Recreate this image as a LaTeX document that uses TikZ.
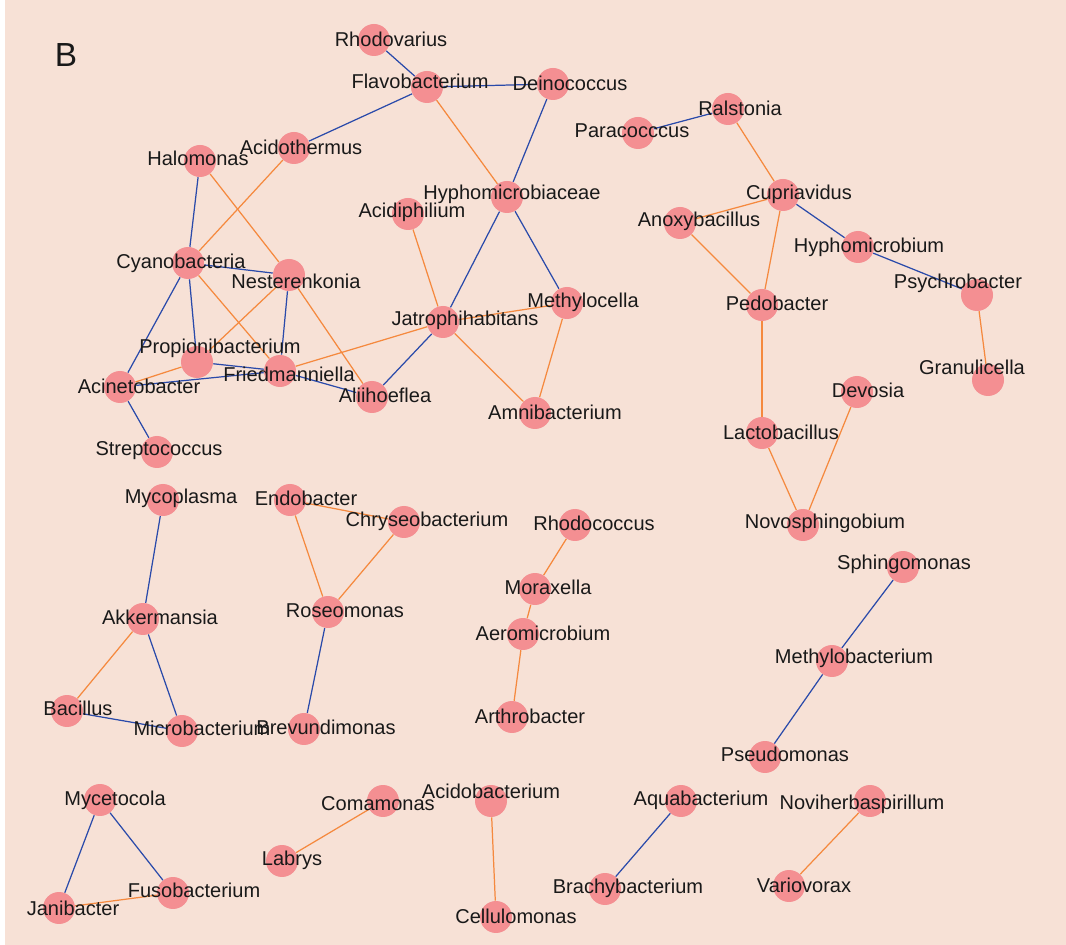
\documentclass[tikz,border=0pt]{standalone}
\usepackage{fontspec}
\setmainfont{Liberation Sans}
\usetikzlibrary{backgrounds}

\definecolor{bgpeach}{RGB}{247,225,214}
\definecolor{nodepink}{RGB}{244,143,146}
\definecolor{edgeorange}{RGB}{245,137,62}
\definecolor{edgeblue}{RGB}{42,74,170}

\begin{document}
\begin{tikzpicture}[
  x=0.02cm, y=-0.02cm,
  font=\fontsize{11.4}{13}\selectfont,
  taxon/.style   ={circle, fill=nodepink, draw=none, minimum size=0.64cm, inner sep=0pt},
  tag/.style     ={inner sep=0pt, text=black!90},
  orangeedge/.style={draw=edgeorange, line width=0.7pt},
  blueedge/.style  ={draw=edgeblue, line width=0.7pt},
]
\useasboundingbox (0,0) rectangle (1066,945);

% -------- taxa ------------------------------------------------------------
\foreach \n/\x/\y in {rhodov/374/40, flavo/427/87, deino/553/84, ralst/728/109,
    para/638/133, acidot/294/148, halo/200/161, hyphoc/507/197, cupri/783/195,
    acidip/408/214, anoxy/680/223, hyphob/858/247, cyano/188/263, nester/289/275,
    psychro/977/295, methyc/567/303, pedo/762/305, jatro/443/322, propio/197/362,
    fried/280/371, acineto/120/387, alii/372/397, granu/988/380, devo/857/392,
    amni/535/413, lacto/762/433, strep/157/452, myco/163/500, endo/290/500,
    chryseo/404/522, rhodoc/575/525, novo/803/525, sphingo/903/567, morax/535/589,
    akker/143/619, roseo/328/612, aeromi/523/634, methyb/832/661, bacil/67/711,
    microb/182/731, brevun/304/729, arthro/512/717, pseudo/765/757, myceto/100/800,
    coma/383/801, acidob/491/801, aqua/681/801, novih/870/801, labrys/282/861,
    fuso/173/893, jani/59/908, brachy/605/889, vario/789/886, cellu/496/917}
  \node[taxon] (\n) at (\x,\y) {};

% -------- labels ----------------------------------------------------------
\foreach \n/\x/\y/\t in {rhodov/391/39/Rhodovarius, flavo/420/81/Flavobacterium,
    deino/570/83/Deinococcus, ralst/740/108/Ralstonia, para/632/131/Paracocccus,
    acidot/301/147/Acidothermus, halo/198/158/Halomonas,
    hyphoc/512/194/Hyphomicrobiaceae, cupri/799/194/Cupriavidus,
    acidip/412/212/Acidiphilium, anoxy/699/221/Anoxybacillus,
    hyphob/869/247/Hyphomicrobium, cyano/181/263/Cyanobacteria,
    nester/296/281/Nesterenkonia, psychro/958/283/Psychrobacter,
    methyc/583/302/Methylocella, pedo/777/303/Pedobacter,
    jatro/465/320/Jatrophihabitans, propio/220/348/Propionibacterium,
    fried/289/374/Friedmanniella, acineto/139/386/Acinetobacter,
    alii/385/395/Aliihoeflea, granu/972/367/Granulicella, devo/868/390/Devosia,
    amni/555/412/Amnibacterium, lacto/781/432/Lactobacillus,
    strep/159/451/Streptococcus, myco/181/498/Mycoplasma, endo/306/498/Endobacter,
    chryseo/427/521/Chryseobacterium, rhodoc/594/523/Rhodococcus,
    novo/825/523/Novosphingobium, sphingo/904/564/Sphingomonas,
    morax/548/587/Moraxella, akker/160/617/Akkermansia, roseo/345/611/Roseomonas,
    aeromi/543/633/Aeromicrobium, methyb/854/658/Methylobacterium,
    bacil/78/708/Bacillus, microb/202/728/Microbacterium,
    brevun/326/727/Brevundimonas, arthro/530/716/Arthrobacter,
    pseudo/785/754/Pseudomonas, myceto/115/800/Mycetocola, coma/378/804/Comamonas,
    acidob/491/791/Acidobacterium, aqua/701/800/Aquabacterium,
    novih/862/804/Noviherbaspirillum, labrys/292/860/Labrys,
    fuso/194/890/Fusobacterium, jani/73/908/Janibacter,
    brachy/628/888/Brachybacterium, vario/804/885/Variovorax,
    cellu/516/916/Cellulomonas}
  \node[tag] (\n-t) at (\x,\y) {\t};

\node[tag, font=\fontsize{19}{22}\selectfont] (panel) at (66,55) {B};

% -------- edges -----------------------------------------------------------
\begin{scope}[on background layer]
  \fill[white] (0,0) rectangle (5,945);
  \fill[bgpeach] (5,0) rectangle (1066,945);

  \foreach \a/\b in {rhodov/flavo, flavo/deino, flavo/acidot, deino/hyphoc,
      ralst/para, halo/cyano, hyphoc/jatro, hyphoc/methyc, cupri/hyphob,
      hyphob/psychro, cyano/nester, cyano/propio, cyano/acineto, nester/fried,
      propio/fried, acineto/fried, fried/alii, jatro/alii, acineto/strep,
      myco/akker, akker/microb, bacil/microb, roseo/brevun, sphingo/methyb,
      methyb/pseudo, myceto/jani, myceto/fuso, aqua/brachy}
    \draw[blueedge] (\a) -- (\b);

  \foreach \a/\b in {flavo/hyphoc, acidot/cyano, halo/nester, ralst/cupri,
      cupri/anoxy, cupri/pedo, anoxy/pedo, acidip/jatro, jatro/methyc,
      jatro/amni, methyc/amni, jatro/fried, acineto/propio, cyano/fried,
      nester/propio, nester/alii, psychro/granu, pedo/lacto, lacto/novo,
      devo/novo, endo/chryseo, endo/roseo, chryseo/roseo, rhodoc/morax,
      morax/aeromi, aeromi/arthro, akker/bacil, coma/labrys, acidob/cellu,
      novih/vario, jani/fuso}
    \draw[orangeedge] (\a) -- (\b);
\end{scope}

\end{tikzpicture}
\end{document}
